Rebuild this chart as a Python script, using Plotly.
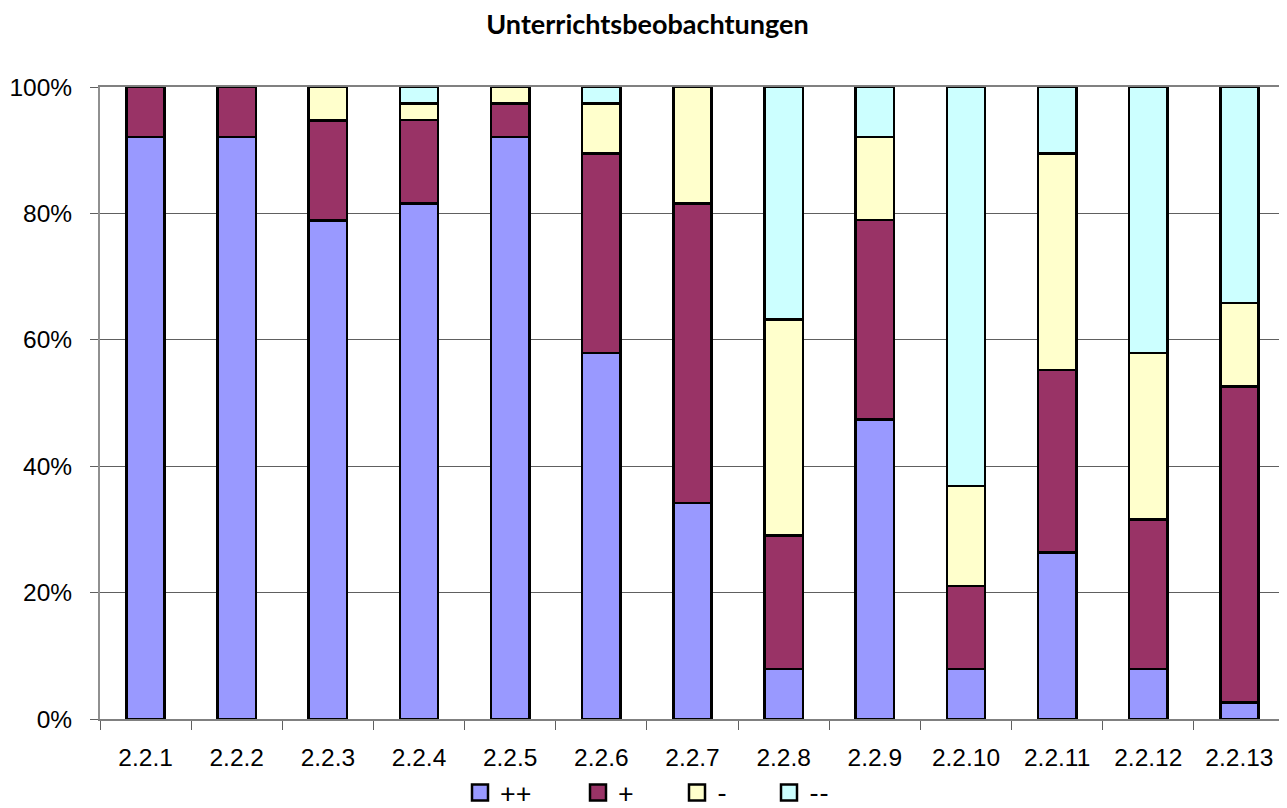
import plotly.graph_objects as go

categories = ["2.2.1", "2.2.2", "2.2.3", "2.2.4", "2.2.5", "2.2.6", "2.2.7",
              "2.2.8", "2.2.9", "2.2.10", "2.2.11", "2.2.12", "2.2.13"]
# shares in percent
pp = [92.1, 92.1, 78.9, 81.6, 92.1, 57.9, 34.2, 7.9, 47.4, 7.9, 26.3, 7.9, 2.6]
p = [7.9, 7.9, 15.8, 13.2, 5.3, 31.6, 47.4, 21.1, 31.6, 13.2, 28.9, 23.7, 50.0]
m = [0.0, 0.0, 5.3, 2.6, 2.6, 7.9, 18.4, 34.2, 13.2, 15.8, 34.2, 26.3, 13.2]
mm = [0.0, 0.0, 0.0, 2.6, 0.0, 2.6, 0.0, 36.8, 7.9, 63.2, 10.5, 42.1, 34.2]

y_tickvals = [0, 20, 40, 60, 80, 100]
y_ticktext = ["0%", "20%", "40%", "60%", "80%", "100%"]

series = [("++", pp, "#9999FF"), ("+", p, "#993366"), ("-", m, "#FFFFCC"), ("--", mm, "#CCFFFF")]

W, H = 1279, 800  # page adds an 8px body margin
ML, MR, MT, MB = 92, 2, 79, 89
PW = W - ML - MR

fig = go.Figure()
for name, vals, col in series:
    fig.add_trace(go.Bar(
        x=categories, y=vals, name=name, showlegend=False,
        marker=dict(color=col, line=dict(color="#000000", width=2.5)),
    ))

# legend swatches, one legend box per entry so the spacing follows the reference
legend_left_px = [464, 582, 681, 773]
legend_names = ["legend", "legend2", "legend3", "legend4"]
legend_layout = {}
for (name, vals, col), lx, ln in zip(series, legend_left_px, legend_names):
    fig.add_trace(go.Scatter(
        x=[None], y=[None], name=name, mode="markers", legend=ln,
        marker=dict(symbol="square", size=16, color=col,
                    line=dict(color="#000000", width=2.5)),
    ))
    legend_layout[ln] = dict(x=(lx - 12 - ML) / PW, xanchor="left",
                             y=-0.117, yanchor="middle",
                             orientation="h", itemwidth=30,
                             bgcolor="rgba(0,0,0,0)",
                             font=dict(family="Lato", size=27, color="#000000"))

fig.update_layout(
    barmode="stack",
    barnorm="percent",
    bargap=0.58,
    width=W, height=H,
    margin=dict(l=ML, r=MR, t=MT, b=MB, autoexpand=False),
    paper_bgcolor="white", plot_bgcolor="white",
    title=dict(text="<b>Unterrichtsbeobachtungen</b>", x=0.5, xanchor="center",
               y=1 - 17 / H, yanchor="middle",
               font=dict(family="Lato", size=27, color="#000000")),
    font=dict(family="Liberation Sans", size=24.5, color="#000000"),
    showlegend=True,
    **legend_layout,
)
fig.update_yaxes(range=[0, 100], tickvals=y_tickvals, ticktext=y_ticktext,
                 tickfont=dict(family="Liberation Sans", size=24.5, color="#000000"),
                 showgrid=True, gridcolor="#606060", gridwidth=1.3,
                 showline=True, linecolor="#909090", linewidth=2,
                 ticks="outside", ticklen=8, tickcolor="#606060", ticklabelstandoff=13,
                 mirror=True, zeroline=False)
fig.update_xaxes(showline=True, linecolor="#808080", linewidth=2,
                 tickfont=dict(family="Liberation Sans", size=24.5, color="#000000"),
                 ticks="outside", ticklen=9, tickcolor="#606060", tickson="boundaries",
                 ticklabelstandoff=16,
                 showgrid=False, mirror=True)

fig.write_html("out.html")
